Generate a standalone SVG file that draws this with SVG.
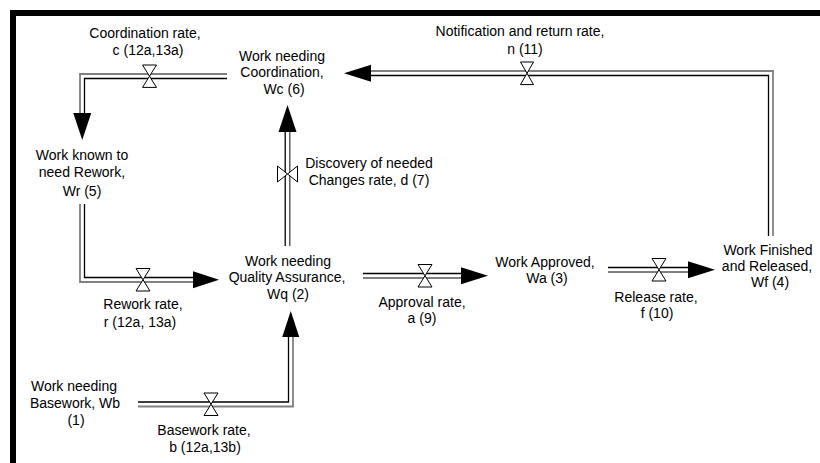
<svg xmlns="http://www.w3.org/2000/svg" width="820" height="463" viewBox="0 0 820 463">
<style>
.g{stroke:#808080;stroke-width:1.8;fill:none}
.k{stroke:#000;stroke-width:1.3;fill:none}
.ah{fill:#000;stroke:none}
.v{fill:#fff;stroke:#000;stroke-width:1}
text{font-family:"Liberation Sans",Arial,sans-serif;font-size:14px;text-anchor:middle;fill:#000}
</style>
<rect width="820" height="463" fill="#fff"/>
<path d="M13,463V13H820" fill="none" stroke="#000" stroke-width="6"/>

<g id="connectors">
  <g id="flow-n">
    <polyline class="g" points="773,236 773,71 371,71"/>
    <polyline class="k" points="768.5,236 768.5,75.5 371,75.5"/>
    <polygon class="ah" points="344,73.3 371,64.8 371,81.8"/>
    <polygon class="v" points="520.5,62 533.5,62 527,73.3 520.5,84.6 533.5,84.6 527,73.3"/>
    <text x="520" y="36">Notification and return rate,</text>
    <text x="525" y="54">n (11)</text>
  </g>
  <g id="flow-c">
    <polyline class="g" points="227,74 80,74 80,113"/>
    <polyline class="k" points="227,78.5 84.5,78.5 84.5,113"/>
    <polygon class="ah" points="82.25,140 73.25,113 91.25,113"/>
    <polygon class="v" points="142.5,65 156.5,65 149.5,76.2 142.5,87.4 156.5,87.4 149.5,76.2"/>
    <text x="145" y="38">Coordination rate,</text>
    <text x="148" y="55">c (12a,13a)</text>
  </g>
  <g id="flow-d">
    <polyline class="k" points="285.2,246 285.2,132"/>
    <polyline class="k" points="289.8,246 289.8,132" style="stroke:#444"/>
    <polygon class="ah" points="287.5,105 278.5,132 296.5,132"/>
    <polygon class="v" points="277.5,166 277.5,182 287.5,174 297.5,166 297.5,182 287.5,174"/>
    <text x="369" y="168">Discovery of needed</text>
    <text x="369" y="185">Changes rate, d (7)</text>
  </g>
  <g id="flow-r">
    <polyline class="g" points="80,204 80,282 193,282"/>
    <polyline class="k" points="84.5,204 84.5,277.5 193,277.5"/>
    <polygon class="ah" points="219,279.75 193,271.25 193,288.25"/>
    <polygon class="v" points="136,268.5 150,268.5 143,279.75 136,291 150,291 143,279.75"/>
    <text x="143" y="309">Rework rate,</text>
    <text x="140" y="327">r (12a, 13a)</text>
  </g>
  <g id="flow-b">
    <polyline class="k" points="138,402 288.5,402 288.5,337"/>
    <polyline class="g" points="138,406.5 293,406.5 293,337"/>
    <polygon class="ah" points="290.75,311 282.25,337 299.25,337"/>
    <polygon class="v" points="204,393 218,393 211,404.25 204,415.5 218,415.5 211,404.25"/>
    <text x="204" y="435">Basework rate,</text>
    <text x="205" y="452">b (12a,13b)</text>
  </g>
  <g id="flow-a">
    <polyline class="k" points="363,273.5 461,273.5"/>
    <polyline class="g" points="363,278 461,278"/>
    <polygon class="ah" points="488,275.75 461,267.25 461,284.25"/>
    <polygon class="v" points="418,264.5 432,264.5 425,275.75 418,287 432,287 425,275.75"/>
    <text x="422" y="307">Approval rate,</text>
    <text x="422" y="323">a (9)</text>
  </g>
  <g id="flow-f">
    <polyline class="k" points="608,267.5 688,267.5"/>
    <polyline class="g" points="608,272 688,272"/>
    <polygon class="ah" points="715,269.75 688,261.25 688,278.25"/>
    <polygon class="v" points="652,258.5 666,258.5 659,269.75 652,281 666,281 659,269.75"/>
    <text x="656" y="302">Release rate,</text>
    <text x="657" y="318">f (10)</text>
  </g>
</g>

<g id="node-Wc">
  <text x="282" y="61">Work needing</text>
  <text x="282" y="77">Coordination,</text>
  <text x="284" y="94">Wc (6)</text>
</g>
<g id="node-Wr">
  <text x="82" y="160">Work known to</text>
  <text x="82" y="177">need Rework,</text>
  <text x="82" y="196">Wr (5)</text>
</g>
<g id="node-Wq">
  <text x="288" y="266">Work needing</text>
  <text x="287" y="282">Quality Assurance,</text>
  <text x="288" y="299">Wq (2)</text>
</g>
<g id="node-Wb">
  <text x="74" y="391">Work needing</text>
  <text x="75" y="408">Basework, Wb</text>
  <text x="76" y="425">(1)</text>
</g>
<g id="node-Wa">
  <text x="545" y="267">Work Approved,</text>
  <text x="547" y="283">Wa (3)</text>
</g>
<g id="node-Wf">
  <text x="768" y="255">Work Finished</text>
  <text x="767" y="271">and Released,</text>
  <text x="770" y="287">Wf (4)</text>
</g>
</svg>
